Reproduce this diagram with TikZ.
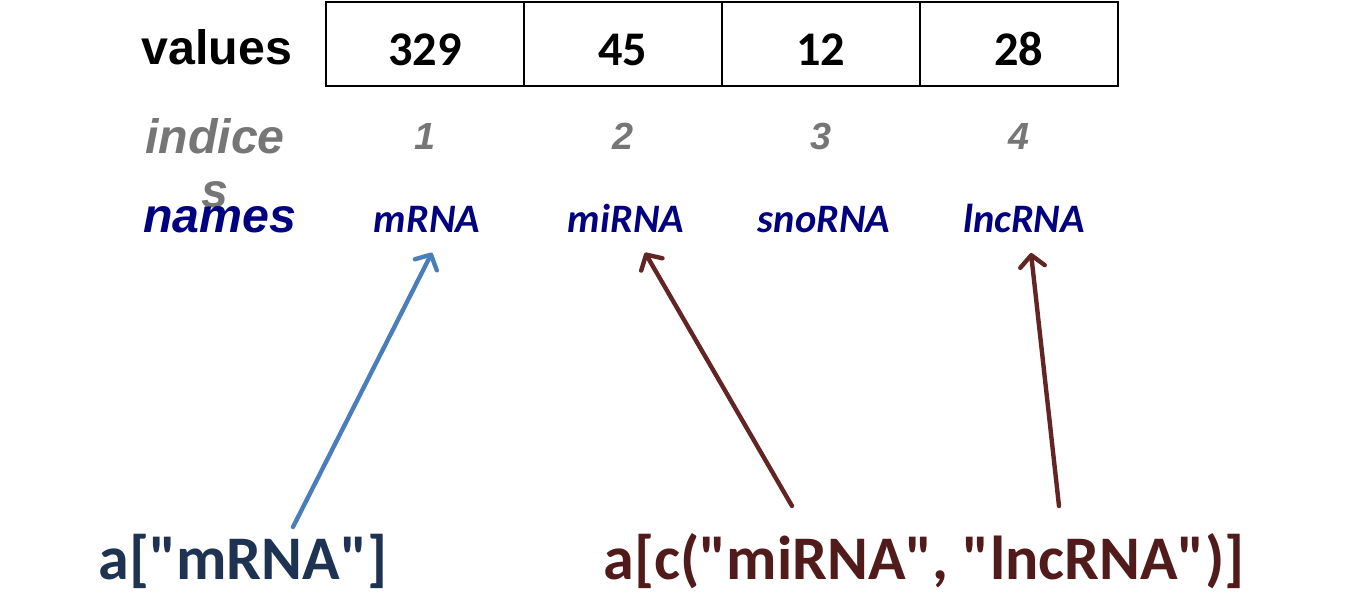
\documentclass[tikz,border=0pt]{standalone}
\usepackage{fontspec}
\newfontfamily\arialfont{Liberation Sans}
\newfontfamily\calfont{Carlito}
\usetikzlibrary{arrows.meta,positioning}
\definecolor{rnanavy}{RGB}{0,0,128}
\definecolor{idxgray}{RGB}{118,118,118}
\definecolor{arrblue}{RGB}{74,126,187}
\definecolor{arrred}{RGB}{99,37,35}
\definecolor{selblue}{RGB}{30,50,82}
\definecolor{selred}{RGB}{82,27,27}
\tikzset{
  rowlab/.style={anchor=base,inner sep=0pt,
                 font=\arialfont\bfseries\fontsize{27.5}{31}\selectfont},
  cell/.style={rectangle,draw,line width=1.1pt,outer sep=0pt,
               minimum width=3.96cm,minimum height=1.68cm,
               text height=24pt,text depth=0pt,
               font=\calfont\bfseries\fontsize{27.5}{33}\selectfont},
  idx/.style={anchor=base,inner sep=0pt,text=idxgray,
              font=\arialfont\bfseries\itshape\fontsize{21.5}{26}\selectfont},
  rna/.style={anchor=base,inner xsep=2pt,inner ysep=11pt,text=rnanavy,
              font=\calfont\bfseries\itshape\fontsize{23}{28}\selectfont},
  sel/.style={anchor=base,inner sep=0pt,
              font=\calfont\bfseries\fontsize{35.3}{40}\selectfont},
  arr/.style={-{Straight Barb[length=6.5pt,width=14pt,round]},line width=2.5pt,line cap=round},
}
\begin{document}
\begin{tikzpicture}[x=0.02cm,y=-0.02cm]
  \useasboundingbox (0,0) rectangle (1350,604);

  % --- row labels ---
  \node[rowlab] (vlab) at (217,65) {values};
  \node[rowlab,text=idxgray,align=center,font=\arialfont\bfseries\itshape\fontsize{27.5}{31}\selectfont] (ilab) at (215,208) {indice\\s};
  \node[rowlab,text=rnanavy,font=\arialfont\bfseries\itshape\fontsize{27.5}{31}\selectfont] (nlab) at (220,233) {names};

  % --- value cells ---
  \node[cell] (v1) at (425,44) {329};
  \node[cell,right=0pt of v1] (v2) {45};
  \node[cell,right=0pt of v2] (v3) {12};
  \node[cell,right=0pt of v3] (v4) {28};

  % --- indices ---
  \node[idx] (i1) at (v1 |- 0,150) {1};
  \node[idx] (i2) at (v2 |- 0,150) {2};
  \node[idx] (i3) at (v3 |- 0,150) {3};
  \node[idx] (i4) at (v4 |- 0,150) {4};

  % --- names ---
  \node[rna] (mrna) at (427,233) {mRNA};
  \node[rna] (mirna) at (626,233) {miRNA};
  \node[rna] (snorna) at (824,233) {snoRNA};
  \node[rna] (lncrna) at (1024,233) {lncRNA};

  % --- subsetting calls ---
  \node[sel,text=selblue] (selone) at (243,580) {a["mRNA"]};
  \node[sel,text=selred] (seltwo) at (924,580) {a[c("miRNA", "lncRNA")]};

  \coordinate (tone) at (293,527);
  \coordinate (ttwo) at (792,506);
  \coordinate (tthree) at (1059,506);

  \draw[arr,arrblue] (tone) -- ([shift={(5,0)}]mrna.south);
  \draw[arr,arrred] (ttwo) -- ([shift={(19,0)}]mirna.south);
  \draw[arr,arrred] (tthree) -- ([shift={(7,0)}]lncrna.south);
\end{tikzpicture}
\end{document}
